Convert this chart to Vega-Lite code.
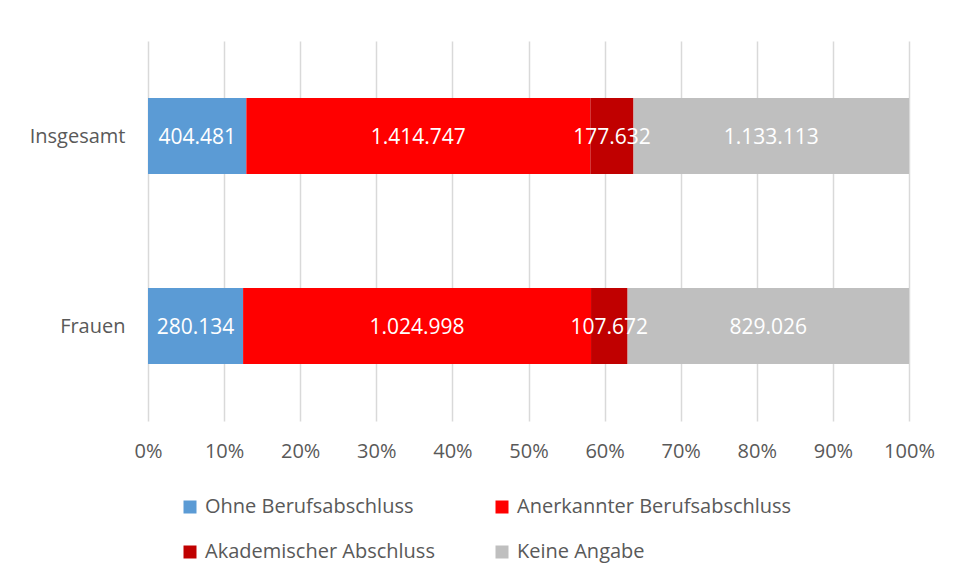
{
  "$schema": "https://vega.github.io/schema/vega-lite/v6.json",
  "width": 761,
  "height": 380,
  "autosize": {"type": "none"},
  "padding": {"left": 148, "top": 41, "right": 45, "bottom": 159},
  "background": "white",
  "config": {
    "font": "Open Sans",
    "view": {"stroke": null},
    "locale": {"number": {"decimal": ",", "thousands": ".", "grouping": [3], "currency": ["", " €"]}}
  },
  "data": {
    "values": [
      {"gruppe": "Insgesamt", "abschluss": "Ohne Berufsabschluss", "ord": 1, "wert": 404481},
      {"gruppe": "Insgesamt", "abschluss": "Anerkannter Berufsabschluss", "ord": 2, "wert": 1414747},
      {"gruppe": "Insgesamt", "abschluss": "Akademischer Abschluss", "ord": 3, "wert": 177632},
      {"gruppe": "Insgesamt", "abschluss": "Keine Angabe", "ord": 4, "wert": 1133113},
      {"gruppe": "Frauen", "abschluss": "Ohne Berufsabschluss", "ord": 1, "wert": 280134},
      {"gruppe": "Frauen", "abschluss": "Anerkannter Berufsabschluss", "ord": 2, "wert": 1024998},
      {"gruppe": "Frauen", "abschluss": "Akademischer Abschluss", "ord": 3, "wert": 107672},
      {"gruppe": "Frauen", "abschluss": "Keine Angabe", "ord": 4, "wert": 829026}
    ]
  },
  "encoding": {
    "y": {
      "field": "gruppe",
      "type": "nominal",
      "sort": ["Insgesamt", "Frauen"],
      "scale": {"paddingInner": 0.6, "paddingOuter": 0.3},
      "axis": {"title": null, "domain": false, "ticks": false, "labelPadding": 23, "labelFontSize": 20, "labelColor": "#595959", "labelFont": "Open Sans", "labelOffset": 1}
    }
  },
  "layer": [
    {
      "mark": {"type": "bar"},
      "encoding": {
        "x": {
          "field": "wert",
          "type": "quantitative",
          "stack": "normalize",
          "scale": {"domain": [0, 1], "nice": false},
          "axis": {
            "title": null,
            "values": [0, 0.1, 0.2, 0.3, 0.4, 0.5, 0.6, 0.7, 0.8, 0.9, 1],
            "format": ".0%",
            "grid": true,
            "gridColor": "#d9d9d9",
            "gridWidth": 1.5,
            "domain": false,
            "ticks": false,
            "labelFlush": false,
            "labelOverlap": false,
            "labelPadding": 20,
            "labelFontSize": 20,
            "labelColor": "#595959",
            "labelFont": "Open Sans"
          }
        },
        "color": {
          "field": "abschluss",
          "type": "nominal",
          "scale": {
            "domain": ["Ohne Berufsabschluss", "Anerkannter Berufsabschluss", "Akademischer Abschluss", "Keine Angabe"],
            "range": ["#5B9BD5", "#FF0000", "#C00000", "#BFBFBF"]
          },
          "legend": {
            "title": null,
            "orient": "none",
            "legendX": 32,
            "legendY": 456,
            "direction": "horizontal",
            "columns": 2,
            "symbolType": "square",
            "symbolSize": 169,
            "symbolStrokeWidth": 0,
            "labelFontSize": 20,
            "labelColor": "#595959",
            "labelFont": "Open Sans",
            "labelOffset": 5,
            "labelLimit": 400,
            "rowPadding": 25,
            "columnPadding": 57
          }
        },
        "order": {"field": "ord", "type": "quantitative"}
      }
    },
    {
      "mark": {"type": "text", "color": "white", "fontSize": 21, "font": "Open Sans", "dy": 2},
      "encoding": {
        "x": {"field": "wert", "type": "quantitative", "stack": "normalize", "bandPosition": 0.5},
        "text": {"field": "wert", "type": "quantitative", "format": ",d"},
        "order": {"field": "ord", "type": "quantitative"},
        "detail": {"field": "abschluss", "type": "nominal"}
      }
    }
  ]
}
